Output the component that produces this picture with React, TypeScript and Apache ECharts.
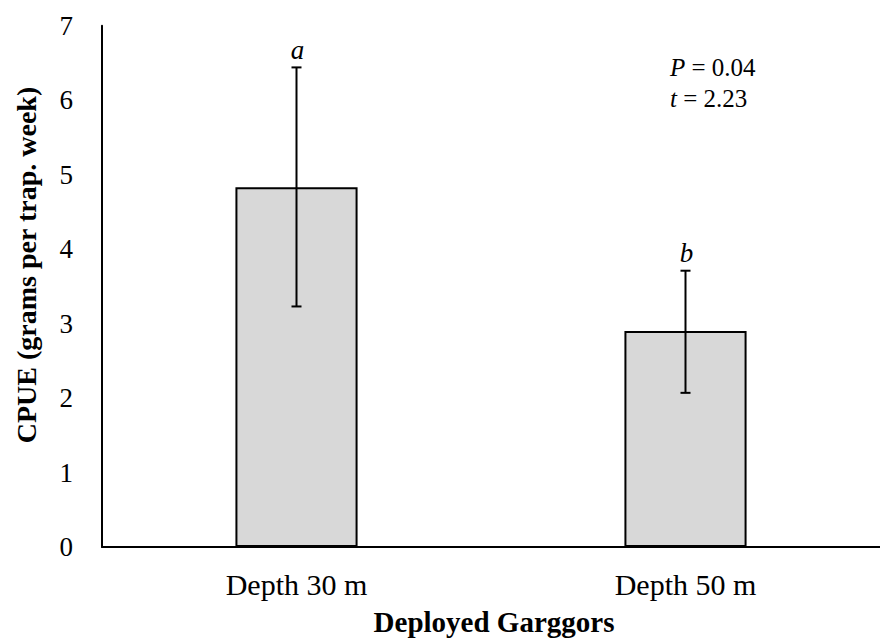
import React, { useEffect, useRef } from "react";
import * as echarts from "echarts";

const categories = ["Depth 30 m", "Depth 50 m"];
const means = [4.83, 2.9];
const errLow = [3.23, 2.07];
const errHigh = [6.44, 3.71];
const letters = ["a", "b"];
const yTicks = { min: 0, max: 7, interval: 1 };
const statLines = ["{i|P} = 0.04", "{i|t} = 2.23"];

const FONT = "'Liberation Serif', 'Times New Roman', serif";

export default function App() {
  const ref = useRef<HTMLDivElement>(null);
  useEffect(() => {
    if (!ref.current) return;
    const chart = echarts.init(ref.current, null, { renderer: "svg" });
    const errData = categories.map((_, i) => [i, errLow[i], errHigh[i]]);
    chart.setOption({
      animation: false,
      backgroundColor: "#ffffff",
      textStyle: { fontFamily: FONT, color: "#000" },
      grid: { left: 102, top: 25.7, width: 784, height: 521.3 },
      xAxis: {
        type: "category",
        data: categories,
        axisLine: { show: true, lineStyle: { color: "#000", width: 2 } },
        axisTick: { show: false },
        axisLabel: { color: "#000", fontSize: 30, fontFamily: FONT, margin: 22 },
        splitLine: { show: false },
      },
      yAxis: {
        type: "value",
        min: yTicks.min,
        max: yTicks.max,
        interval: yTicks.interval,
        axisLine: { show: true, lineStyle: { color: "#000", width: 2 } },
        axisTick: { show: false },
        axisLabel: { color: "#000", fontSize: 27, fontFamily: FONT, margin: 29 },
        splitLine: { show: false },
      },
      series: [
        {
          type: "bar",
          data: means,
          barWidth: "31.4%",
          itemStyle: { color: "#d8d8d8", borderColor: "#000", borderWidth: 2 },
          z: 2,
        },
        {
          type: "custom",
          data: errData,
          z: 5,
          renderItem: (params: any, api: any) => {
            const x = api.value(0);
            const lo = api.coord([x, api.value(1)]);
            const hi = api.coord([x, api.value(2)]);
            const cap = 5;
            const st = { stroke: "#000", lineWidth: 2 };
            const letter = letters[params.dataIndex];
            return {
              type: "group",
              children: [
                { type: "line", shape: { x1: hi[0], y1: hi[1], x2: lo[0], y2: lo[1] }, style: st },
                { type: "line", shape: { x1: hi[0] - cap, y1: hi[1], x2: hi[0] + cap, y2: hi[1] }, style: st },
                { type: "line", shape: { x1: lo[0] - cap, y1: lo[1], x2: lo[0] + cap, y2: lo[1] }, style: st },
                {
                  type: "text",
                  x: hi[0] + 1,
                  y: hi[1] - 4,
                  style: {
                    text: letter,
                    fontSize: 27,
                    fontStyle: "italic",
                    fontFamily: FONT,
                    fill: "#000",
                    align: "center",
                    verticalAlign: "bottom",
                  },
                },
              ],
            };
          },
        },
      ],
      graphic: [
        {
          type: "text",
          left: 670,
          top: 52,
          style: {
            text: statLines.join("\n"),
            fontSize: 25,
            fontFamily: FONT,
            fill: "#000",
            lineHeight: 31,
            rich: {
              i: { fontStyle: "italic", fontSize: 25, fontFamily: FONT, fill: "#000", lineHeight: 31 },
            },
          },
        },
        {
          type: "text",
          x: 26,
          y: 265,
          rotation: Math.PI / 2,
          style: {
            text: "CPUE (grams per trap. week)",
            fontSize: 28,
            fontWeight: "bold",
            fontFamily: FONT,
            fill: "#000",
            align: "center",
            verticalAlign: "middle",
          },
        },
        {
          type: "text",
          x: 494,
          y: 622,
          style: {
            text: "Deployed Garggors",
            fontSize: 29,
            fontWeight: "bold",
            fontFamily: FONT,
            fill: "#000",
            align: "center",
            verticalAlign: "middle",
          },
        },
      ],
    });
    return () => chart.dispose();
  }, []);
  return (
    <div
      ref={ref}
      style={{ position: "absolute", left: 0, top: 0, width: 880, height: 641 }}
    />
  );
}
